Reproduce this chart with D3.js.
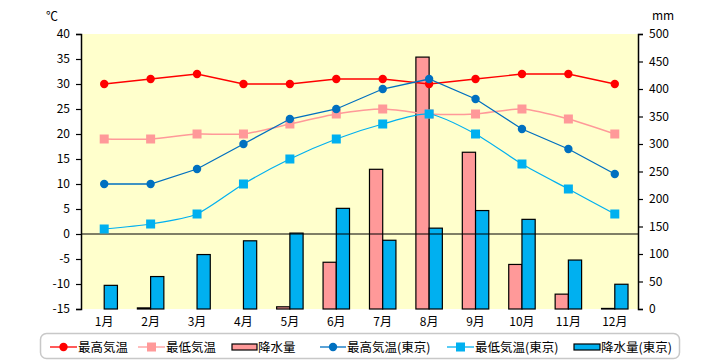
<!DOCTYPE html>
<html><head><meta charset="utf-8">
<script src="https://cdn.jsdelivr.net/npm/d3@7"></script>
<style>body{margin:0;background:#fff}svg{display:block}</style>
</head><body>
<script>
const months = ["1月","2月","3月","4月","5月","6月","7月","8月","9月","10月","11月","12月"];
const maxTemp = [30,31,32,30,30,31,31,30,31,32,32,30];
const minTemp = [19,19,20,20,22,24,25,24,24,25,23,20];
const precip = [0,2,0,0,4,85,254,458,285,81,27,1];
const maxTempTokyo = [10,10,13,18,23,25,29,31,27,21,17,12];
const minTempTokyo = [1,2,4,10,15,19,22,24,20,14,9,4];
const precipTokyo = [43,59,99,124,138,183,125,147,179,163,89,45];
const tempTicks = [40,35,30,25,20,15,10,5,0,-5,-10,-15];
const precipTicks = [500,450,400,350,300,250,200,150,100,50,0];
const legendLabels = ["最高気温","最低気温","降水量","最高気温(東京)","最低気温(東京)","降水量(東京)"];

const W=720,H=360;
const L=81,R=638,T=34,B=309;
const font = "'Noto Sans CJK JP', 'DejaVu Sans', sans-serif";
const svg = d3.select("body").append("svg").attr("width",W).attr("height",H).style("font-family",font);

const x = d3.scaleBand().domain(months).range([L,R]).paddingInner(0.43).paddingOuter(0.215);
const xs = d3.scaleBand().domain(["a","b"]).range([0,x.bandwidth()]);
const xc = m => x(m)+x.bandwidth()/2;
const yT = d3.scaleLinear().domain([-15,40]).range([B,T]);
const yP = d3.scaleLinear().domain([0,500]).range([B,T]);

svg.append("rect").attr("x",L).attr("y",T).attr("width",R-L).attr("height",B-T).attr("fill","#FFFFCC");

// bars
const barG = svg.append("g");
const pd = months.map((m,i)=>({m,v:precip[i]})).filter(d=>d.v>0);
barG.selectAll(".p").data(pd).join("rect")
  .attr("x",d=>x(d.m)+xs("a")).attr("width",xs.bandwidth())
  .attr("y",d=>yP(d.v)).attr("height",d=>yP(0)-yP(d.v))
  .attr("fill","#FF9999").attr("stroke","#000").attr("stroke-width",1.2);
const pdt = months.map((m,i)=>({m,v:precipTokyo[i]}));
barG.selectAll(".t").data(pdt).join("rect")
  .attr("x",d=>x(d.m)+xs("b")).attr("width",xs.bandwidth())
  .attr("y",d=>yP(d.v)).attr("height",d=>yP(0)-yP(d.v))
  .attr("fill","#00B0F0").attr("stroke","#000").attr("stroke-width",1.2);

// zero line
svg.append("line").attr("x1",L).attr("x2",R).attr("y1",yT(0)).attr("y2",yT(0)).attr("stroke","#000").attr("stroke-width",1.2);

// axes
const axL = d3.axisLeft(yT).tickValues(tempTicks).tickSize(5).tickPadding(6);
const gL = svg.append("g").attr("transform",`translate(${L},0)`).call(axL);
const axR = d3.axisRight(yP).tickValues(precipTicks).tickSize(5).tickPadding(6);
const gR = svg.append("g").attr("transform",`translate(${R},0)`).call(axR);
[gL,gR].forEach(g=>{
  g.select(".domain").attr("stroke","#000").attr("stroke-width",1.5);
  g.selectAll(".tick line").attr("stroke","#000").attr("stroke-width",1.2);
  g.selectAll("text").attr("font-family",font).attr("font-size",12).attr("fill","#000");
});
gL.selectAll(".tick text").text(d=>d<0?"-"+Math.abs(d):d);

const gX = svg.append("g");
gX.selectAll("text").data(months).join("text")
  .attr("x",d=>xc(d)).attr("y",326).attr("text-anchor","middle")
  .attr("font-size",12).text(d=>d);

svg.append("text").attr("x",52).attr("y",21).attr("text-anchor","middle").attr("font-size",12).text("℃");
svg.append("text").attr("x",663).attr("y",20).attr("text-anchor","middle").attr("font-size",12).text("mm");

// lines
function series(vals,color,lw,curve,shape,mcolor){
  const pts = months.map((m,i)=>[xc(m),yT(vals[i])]);
  svg.append("path").attr("d",d3.line().curve(curve)(pts)).attr("fill","none").attr("stroke",color).attr("stroke-width",lw);
  const g = svg.append("g");
  if(shape==="circle"){
    g.selectAll("circle").data(pts).join("circle").attr("cx",d=>d[0]).attr("cy",d=>d[1]).attr("r",4.2).attr("fill",mcolor);
  } else {
    g.selectAll("rect").data(pts).join("rect").attr("x",d=>d[0]-4.5).attr("y",d=>d[1]-4.5).attr("width",9).attr("height",9).attr("fill",mcolor);
  }
}
series(maxTemp,"#FF0000",1.3,d3.curveLinear,"circle","#FF0000");
series(minTemp,"#FF9999",1.5,d3.curveCardinal.tension(0.3),"square","#FF9999");
series(maxTempTokyo,"#0070C0",1.3,d3.curveLinear,"circle","#0070C0");
series(minTempTokyo,"#00B0F0",1.2,d3.curveCardinal.tension(0.3),"square","#00B0F0");

// legend
const lg = svg.append("g");
lg.append("rect").attr("x",40.5).attr("y",333.5).attr("width",639).attr("height",25).attr("rx",6).attr("fill","#fff").attr("stroke","#C8C8C8").attr("stroke-width",1.5);
const ly = 347;
const items = [
  {t:"line",c:"#FF0000",s:"circle",x0:50,x1:77},
  {t:"line",c:"#FF9999",s:"square",x0:138,x1:165},
  {t:"bar",c:"#FF9999",x0:232,x1:257},
  {t:"line",c:"#0070C0",s:"circle",x0:320,x1:346},
  {t:"line",c:"#00B0F0",s:"square",x0:447,x1:474},
  {t:"bar",c:"#00B0F0",x0:574,x1:600}
];
items.forEach((it,i)=>{
  if(it.t==="line"){
    lg.append("line").attr("x1",it.x0).attr("x2",it.x1).attr("y1",ly).attr("y2",ly).attr("stroke",it.c).attr("stroke-width",1.3);
    const cx=(it.x0+it.x1)/2;
    if(it.s==="circle") lg.append("circle").attr("cx",cx).attr("cy",ly).attr("r",4.2).attr("fill",it.c);
    else lg.append("rect").attr("x",cx-4.5).attr("y",ly-4.5).attr("width",9).attr("height",9).attr("fill",it.c);
  } else {
    lg.append("rect").attr("x",it.x0).attr("y",ly-3).attr("width",it.x1-it.x0).attr("height",6).attr("fill",it.c).attr("stroke","#000").attr("stroke-width",1.2);
  }
  lg.append("text").attr("x",it.x1+1).attr("y",ly+4.5).attr("font-size",12.5).text(legendLabels[i]);
});
</script>
</body></html>
